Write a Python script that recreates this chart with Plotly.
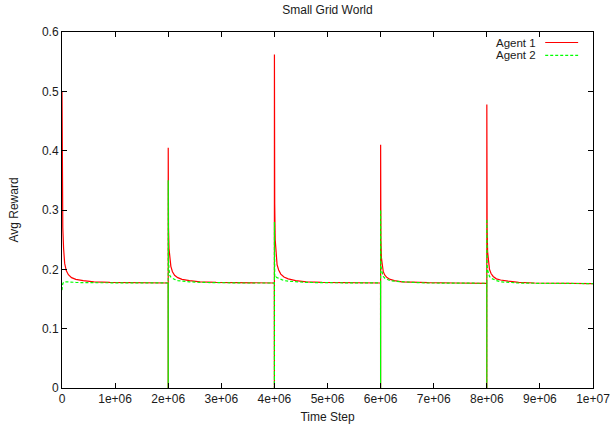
import plotly.graph_objects as go

# ---- data ----
segment_starts = [0, 2000000, 4000000, 6000000, 8000000]
offsets = [0, 500, 2000, 6000, 15000, 30000, 50000, 80000, 120000, 180000,
           260000, 400000, 600000, 900000, 1400000, 1999000]

agent1_segments = [
    [0.50, 0.49, 0.42, 0.33, 0.27, 0.235, 0.21, 0.198, 0.191, 0.186, 0.183, 0.181, 0.179, 0.178, 0.1775, 0.177],
    [0.0, 0.405, 0.33, 0.27, 0.235, 0.215, 0.205, 0.196, 0.19, 0.186, 0.183, 0.181, 0.179, 0.178, 0.1775, 0.177],
    [0.0, 0.562, 0.42, 0.31, 0.25, 0.222, 0.208, 0.199, 0.192, 0.187, 0.184, 0.181, 0.179, 0.178, 0.1775, 0.177],
    [0.0, 0.41, 0.31, 0.25, 0.22, 0.205, 0.196, 0.19, 0.186, 0.183, 0.181, 0.179, 0.178, 0.1775, 0.177, 0.1765],
    [0.0, 0.478, 0.35, 0.27, 0.23, 0.212, 0.2, 0.193, 0.188, 0.184, 0.182, 0.18, 0.178, 0.177, 0.1765, 0.176],
]
agent2_segments = [
    [0.165, 0.165, 0.168, 0.172, 0.176, 0.178, 0.179, 0.179, 0.1785, 0.178, 0.178, 0.1775, 0.1775, 0.177, 0.177, 0.177],
    [0.0, 0.35, 0.24, 0.215, 0.2, 0.19, 0.187, 0.185, 0.183, 0.181, 0.18, 0.179, 0.178, 0.1775, 0.177, 0.177],
    [0.0, 0.28, 0.2, 0.187, 0.186, 0.187, 0.186, 0.185, 0.183, 0.181, 0.18, 0.179, 0.178, 0.1775, 0.177, 0.177],
    [0.0, 0.30, 0.23, 0.21, 0.2, 0.193, 0.188, 0.185, 0.183, 0.181, 0.18, 0.179, 0.178, 0.177, 0.1765, 0.1765],
    [0.0, 0.285, 0.23, 0.21, 0.199, 0.192, 0.188, 0.185, 0.183, 0.181, 0.179, 0.178, 0.177, 0.1765, 0.176, 0.176],
]

x_tick_vals = [0, 1e6, 2e6, 3e6, 4e6, 5e6, 6e6, 7e6, 8e6, 9e6, 1e7]
x_tick_text = ["0", "1e+06", "2e+06", "3e+06", "4e+06", "5e+06", "6e+06", "7e+06", "8e+06", "9e+06", "1e+07"]
y_tick_vals = [0, 0.1, 0.2, 0.3, 0.4, 0.5, 0.6]
y_tick_text = ["0", "0.1", "0.2", "0.3", "0.4", "0.5", "0.6"]

series_names = ["Agent 1", "Agent 2"]

# ---- build ----
def flatten(segments):
    xs, ys = [], []
    for start, vals in zip(segment_starts, segments):
        for off, v in zip(offsets, vals):
            xs.append(start + off)
            ys.append(v)
    return xs, ys

x1, y1 = flatten(agent1_segments)
x2, y2 = flatten(agent2_segments)

FONT = "Liberation Sans, Arial, sans-serif"
FS = 12
TXT = "#1a1a1a"

fig = go.Figure()
fig.add_trace(go.Scatter(x=x1, y=y1, mode="lines", name=series_names[0],
                         line=dict(color="#ff0000", width=1.2), showlegend=False))
fig.add_trace(go.Scatter(x=x2, y=y2, mode="lines", name=series_names[1],
                         line=dict(color="#00ff00", width=1.2, dash="3px,2px"), showlegend=False))

axis_common = dict(showgrid=False, zeroline=False, showline=True, linecolor="black",
                   linewidth=1, mirror="ticks", ticks="inside", ticklen=5,
                   tickcolor="black", tickwidth=1, automargin=False,
                   tickfont=dict(family=FONT, size=FS, color=TXT))

fig.update_xaxes(range=[0, 1e7], tickvals=x_tick_vals, ticktext=x_tick_text,
                 title=dict(text="Time Step", font=dict(family=FONT, size=FS, color=TXT), standoff=7),
                 **axis_common)
fig.update_yaxes(range=[0, 0.6], tickvals=y_tick_vals, ticktext=y_tick_text,
                 title=dict(text="Avg Reward", font=dict(family=FONT, size=FS, color=TXT), standoff=20),
                 **axis_common)

# gnuplot-style legend: text then line sample
legend_y = [0.9705, 0.9342]
legend_colors = ["#ff0000", "#00ff00"]
legend_dash = ["solid", "3px,2px"]
for name, yy, col, dsh in zip(series_names, legend_y, legend_colors, legend_dash):
    fig.add_annotation(x=0.895, y=yy, xref="paper", yref="paper", text=name,
                       showarrow=False, xanchor="right", yanchor="middle", borderpad=0,
                       font=dict(family=FONT, size=11.5, color=TXT))
    fig.add_shape(type="line", xref="paper", yref="paper", x0=0.910, x1=0.972,
                  y0=yy, y1=yy, line=dict(color=col, width=1.2, dash=dsh))

fig.update_layout(
    width=611, height=424,
    margin=dict(l=62, r=18, t=32, b=36),
    paper_bgcolor="white", plot_bgcolor="white",
    title=dict(text="Small Grid World", x=0.536, xanchor="center", y=0.976, yanchor="middle",
               font=dict(family=FONT, size=FS, color=TXT)),
)

fig.write_html("out.html")
